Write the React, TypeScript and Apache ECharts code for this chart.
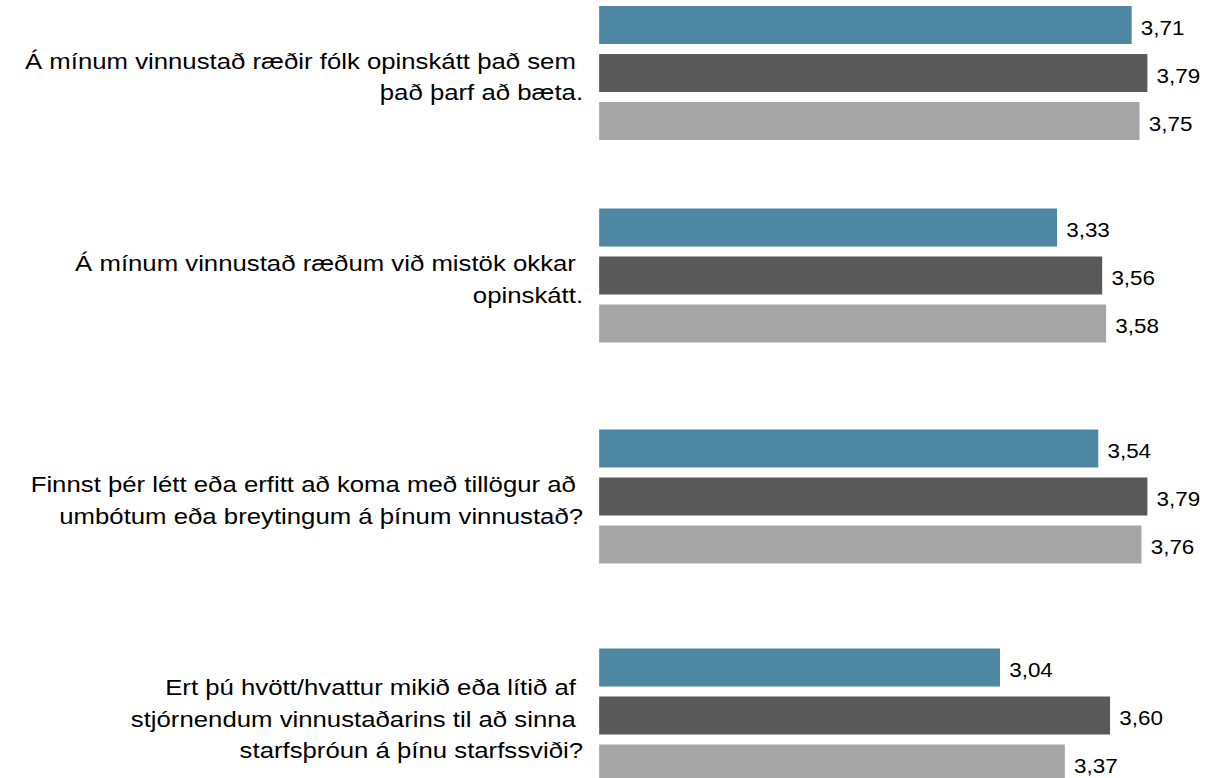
import React, { useEffect, useRef } from "react";
import * as echarts from "echarts";

const categories = [
  "Á mínum vinnustað ræðir fólk opinskátt það sem \nþað þarf að bæta.",
  "Á mínum vinnustað ræðum við mistök okkar \nopinskátt.",
  "Finnst þér létt eða erfitt að koma með tillögur að \numbótum eða breytingum á þínum vinnustað?",
  "Ert þú hvött/hvattur mikið eða lítið af \nstjórnendum vinnustaðarins til að sinna \nstarfsþróun á þínu starfssviði?",
];
const seriesNames = ["Röð 1", "Röð 2", "Röð 3"];
const seriesBlue = [3.71, 3.33, 3.54, 3.04];
const seriesDark = [3.79, 3.56, 3.79, 3.6];
const seriesLight = [3.75, 3.58, 3.76, 3.37];
const axisMin = 1;
const axisMax = 5;

const COLORS = ["#4E87A1", "#595959", "#A5A5A5"];
const STRETCH = 1.15;
const PAGE_W = 1211;
const PAGE_H = 778;
const CHART_W = 1300;
const CHART_H = 900;
const OFFSET_Y = 50;
const GROUP_CENTERS = [73, 275.5, 496.5, 715.5];
const GRID_LEFT = 521;
const PX_PER_UNIT = 170.87;
const FONT = "'Liberation Sans', Arial, sans-serif";

export default function App() {
  const ref = useRef<HTMLDivElement>(null);

  useEffect(() => {
    if (!ref.current) return;
    const chart = echarts.init(ref.current, undefined, { renderer: "svg" });
    const allSeries = [seriesBlue, seriesDark, seriesLight];

    const grids = GROUP_CENTERS.map((c) => ({
      left: GRID_LEFT,
      width: (axisMax - axisMin) * PX_PER_UNIT,
      top: c - 100 + OFFSET_Y,
      height: 200,
      containLabel: false,
      outerBoundsMode: "none",
    }));

    const xAxes = categories.map((_, i) => ({
      type: "value" as const,
      gridIndex: i,
      min: axisMin,
      max: axisMax,
      show: false,
    }));

    const yAxes = categories.map((cat, i) => ({
      type: "category" as const,
      gridIndex: i,
      data: [cat],
      inverse: true,
      axisLine: { show: false },
      axisTick: { show: false },
      splitLine: { show: false },
      axisLabel: {
        margin: 14,
        fontSize: 22.4,
        lineHeight: 31.5,
        color: "#000",
        fontFamily: FONT,
        align: "right" as const,
        formatter: (v: string) => "{pad| }\n" + v,
        rich: {
          pad: { fontSize: 2, lineHeight: 7, height: 7 },
        },
      },
    }));

    const series: any[] = [];
    categories.forEach((_, i) => {
      allSeries.forEach((vals, s) => {
        series.push({
          type: "bar",
          name: seriesNames[s],
          xAxisIndex: i,
          yAxisIndex: i,
          data: [vals[i]],
          barWidth: 38,
          barGap: "26.3%",
          itemStyle: { color: COLORS[s] },
          label: {
            show: true,
            position: "right",
            distance: 8,
            offset: [0, 3],
            fontSize: 19.5,
            color: "#000",
            fontFamily: FONT,
            formatter: (p: any) => Number(p.value).toFixed(2).replace(".", ","),
          },
        });
      });
    });

    chart.setOption({
      animation: false,
      backgroundColor: "#fff",
      grid: grids,
      xAxis: xAxes,
      yAxis: yAxes,
      series,
    });

    return () => chart.dispose();
  }, []);

  return (
    <div
      style={{
        position: "fixed",
        left: 0,
        top: 0,
        width: PAGE_W,
        height: PAGE_H,
        overflow: "hidden",
        background: "#fff",
      }}
    >
      <div
        ref={ref}
        style={{
          position: "absolute",
          left: 0,
          top: -OFFSET_Y,
          width: CHART_W,
          height: CHART_H,
          transform: `scaleX(${STRETCH})`,
          transformOrigin: "0 0",
        }}
      />
    </div>
  );
}
